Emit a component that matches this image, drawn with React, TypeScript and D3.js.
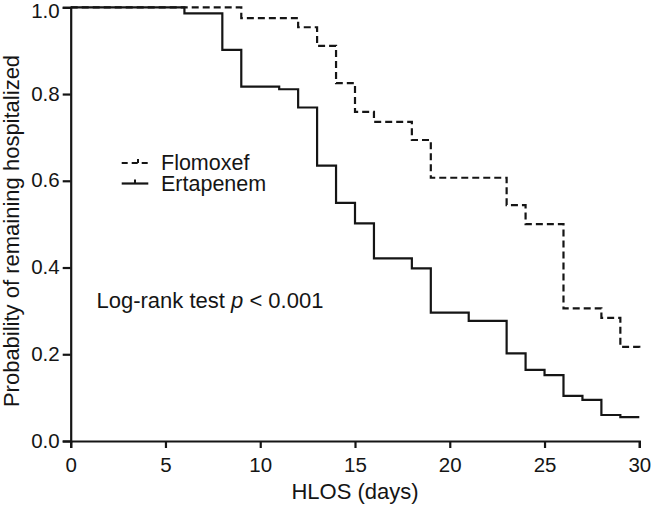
import { useEffect, useRef } from "react";
import * as d3 from "d3";

// Kaplan-Meier step values
const flomoxefDays = [0, 9, 12, 13, 14, 15, 16, 18, 19, 23, 24, 26, 28, 29, 30];
const flomoxefSurv = [1.0, 0.975, 0.954, 0.911, 0.825, 0.759, 0.736, 0.694, 0.607, 0.544, 0.5, 0.306, 0.284, 0.217, 0.21];

const ertapenemDays = [0, 6, 8, 9, 11, 12, 13, 14, 15, 16, 18, 19, 21, 23, 24, 25, 26, 27, 28, 29, 30];
const ertapenemSurv = [1.0, 0.986, 0.902, 0.817, 0.811, 0.769, 0.635, 0.549, 0.502, 0.421, 0.398, 0.296, 0.277, 0.202, 0.164, 0.152, 0.104, 0.095, 0.06, 0.055, 0.055];

const xTicks = [0, 5, 10, 15, 20, 25, 30];
const yTicks = [0, 0.2, 0.4, 0.6, 0.8, 1.0];
const legendNames = ["Flomoxef", "Ertapenem"];

const App = () => {
  const svgRef = useRef<SVGSVGElement>(null);

  useEffect(() => {
    const width = 652;
    const height = 505;
    const ink = "#151515";
    const font = "'Liberation Sans', Arial, sans-serif";

    const svg = d3.select(svgRef.current).attr("width", width).attr("height", height);
    svg.selectAll("*").remove();

    const x = d3.scaleLinear().domain([0, 30]).range([70.7, 639.3]);
    const y = d3.scaleLinear().domain([0, 1]).range([441, 7.3]);

    // axes
    const xAxis = svg.append("g").attr("transform", `translate(0,${y(0)})`);
    xAxis
      .call(d3.axisBottom(x).tickValues(xTicks).tickSize(7).tickPadding(6).tickFormat(d3.format("d")))
      .call((g) => g.select(".domain").attr("stroke", ink).attr("stroke-width", 2.2))
      .call((g) => g.selectAll(".tick line").attr("stroke", ink).attr("stroke-width", 2.2))
      .call((g) =>
        g.selectAll(".tick text").attr("fill", ink).style("font-size", "20.5px").style("font-family", font).attr("y", 12).attr("dy", "0.95em")
      );

    const yAxis = svg.append("g").attr("transform", `translate(${x(0)},0)`);
    yAxis
      .call(d3.axisLeft(y).tickValues(yTicks).tickSize(8).tickPadding(3).tickFormat(d3.format(".1f")))
      .call((g) => g.select(".domain").attr("stroke", ink).attr("stroke-width", 2.2))
      .call((g) => g.selectAll(".tick line").attr("stroke", ink).attr("stroke-width", 2.2))
      .call((g) =>
        g
          .selectAll<SVGTextElement, number>(".tick text")
          .attr("fill", ink)
          .style("font-size", "20.5px")
          .style("font-family", font)
          .attr("dy", (d) => (d === 1 ? "0.5em" : "0.3em"))
      );

    const line = d3
      .line<[number, number]>()
      .x((d) => x(d[0]))
      .y((d) => y(d[1]))
      .curve(d3.curveStepAfter);

    const flo = flomoxefDays.map((d, i) => [d, flomoxefSurv[i]] as [number, number]);
    const ert = ertapenemDays.map((d, i) => [d, ertapenemSurv[i]] as [number, number]);

    svg
      .append("path")
      .attr("d", line(flo))
      .attr("fill", "none")
      .attr("stroke", ink)
      .attr("stroke-width", 2.2)
      .attr("stroke-dasharray", "7,4");

    svg
      .append("path")
      .attr("d", line(ert))
      .attr("fill", "none")
      .attr("stroke", ink)
      .attr("stroke-width", 2.2);

    // legend
    const legend = svg.append("g");
    legendNames.forEach((name, i) => {
      const ly = 163 + i * 20.5;
      legend
        .append("line")
        .attr("x1", 121.7)
        .attr("x2", 148.3)
        .attr("y1", ly)
        .attr("y2", ly)
        .attr("stroke", ink)
        .attr("stroke-width", 2.2)
        .attr("stroke-dasharray", i === 0 ? "6,4" : null);
      legend
        .append("line")
        .attr("x1", i === 0 ? 138 : 135)
        .attr("x2", i === 0 ? 138 : 135)
        .attr("y1", ly - 4)
        .attr("y2", ly)
        .attr("stroke", ink)
        .attr("stroke-width", 2);
      legend
        .append("text")
        .attr("x", 161)
        .attr("y", ly + 7.3)
        .attr("fill", ink)
        .style("font-size", "21.5px")
        .style("font-family", font)
        .text(name);
    });

    // log-rank annotation
    const ann = svg
      .append("text")
      .attr("x", 96.5)
      .attr("y", 308.3)
      .attr("fill", ink)
      .style("font-size", "22px")
      .style("font-family", font);
    ann.append("tspan").text("Log-rank test ");
    ann.append("tspan").style("font-style", "italic").text("p");
    ann.append("tspan").text(" < 0.001");

    // axis titles
    svg
      .append("text")
      .attr("x", (x(0) + x(30)) / 2)
      .attr("y", 499.3)
      .attr("text-anchor", "middle")
      .attr("fill", ink)
      .style("font-size", "22px")
      .style("font-family", font)
      .text("HLOS (days)");

    svg
      .append("text")
      .attr("transform", "translate(18.5,231) rotate(-90)")
      .attr("text-anchor", "middle")
      .attr("fill", ink)
      .style("font-size", "22px")
      .style("font-family", font)
      .text("Probability of remaining hospitalized");
  }, []);

  return (
    <div style={{ position: "absolute", left: 0, top: 0, background: "#fff" }}>
      <svg ref={svgRef}></svg>
    </div>
  );
};

export default App;
